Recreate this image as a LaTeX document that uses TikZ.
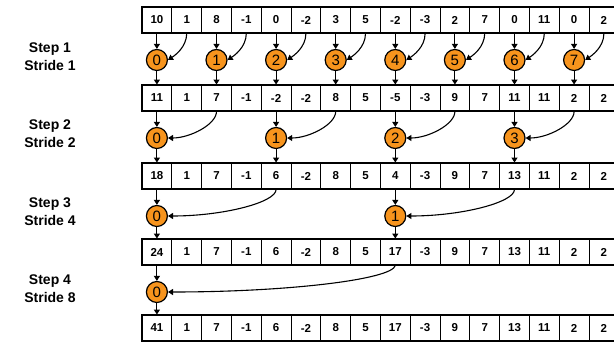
\documentclass[tikz,border=0pt]{standalone}
\usepackage{fontspec}
\setmainfont{Liberation Sans}
\usetikzlibrary{arrows.meta}
\definecolor{opfill}{HTML}{F7941D}
\begin{document}
\begin{tikzpicture}[x=1pt,y=1pt,
  cell/.style={draw, line width=0.9pt, minimum width=29.8pt, minimum height=26pt, inner sep=0pt, font=\fontsize{11.5}{13}\selectfont\bfseries},
  opnode/.style={circle, draw, line width=1.2pt, fill=opfill, minimum size=21pt, inner sep=0pt, font=\fontsize{15}{15}\selectfont},
  arr/.style={line width=1.1pt, -{Triangle[length=5pt,width=6pt]}},
  steplabel/.style={align=center, font=\fontsize{14}{18}\selectfont\bfseries}
]
\useasboundingbox (0,0) rectangle (614,-343);
\clip (0,0) rectangle (614,-343);
% arrays
\foreach \r/\yy/\vals in {
  0/20/{10,1,8,-1,0,-2,3,5,-2,-3,2,7,0,11,0,2},
  1/98/{11,1,7,-1,-2,-2,8,5,-5,-3,9,7,11,11,2,2},
  2/176/{18,1,7,-1,6,-2,8,5,4,-3,9,7,13,11,2,2},
  3/252/{24,1,7,-1,6,-2,8,5,17,-3,9,7,13,11,2,2},
  4/328/{41,1,7,-1,6,-2,8,5,17,-3,9,7,13,11,2,2}}{
  \foreach \v [count=\c from 0] in \vals {
    \node[cell] (r\r-\c) at ({142+(\c+0.5)*29.8},-\yy) {\v};
  }
  \draw[line width=2.8pt] (142,{-\yy+13}) rectangle ({142+16*29.8},{-\yy-13});
}
% step labels
\node[steplabel] (lab1) at (50,-57) {Step 1\\Stride 1};
\node[steplabel] (lab2) at (50,-134) {Step 2\\Stride 2};
\node[steplabel] (lab3) at (50,-212) {Step 3\\Stride 4};
\node[steplabel] (lab4) at (50,-289) {Step 4\\Stride 8};
% step 1
\foreach \k in {0,...,7}{
  \pgfmathtruncatemacro{\c}{2*\k}
  \pgfmathtruncatemacro{\s}{2*\k+1}
  \node[opnode] (s1-\k) at ({142+(\c+0.5)*29.8},-60) {\k};
  \draw[arr] (r0-\c.south) -- (s1-\k.north);
  \draw[arr] (s1-\k.south) -- (r1-\c.north);
  \draw[arr] (r0-\s.south) .. controls +(0,-14) and +(6,4) .. (s1-\k.east);
}
% step 2
\foreach \k in {0,...,3}{
  \pgfmathtruncatemacro{\c}{4*\k}
  \pgfmathtruncatemacro{\s}{4*\k+2}
  \node[opnode] (s2-\k) at ({142+(\c+0.5)*29.8},-138) {\k};
  \draw[arr] (r1-\c.south) -- (s2-\k.north);
  \draw[arr] (s2-\k.south) -- (r2-\c.north);
  \draw[arr] (r1-\s.south) .. controls +(0,-13) and +(22,0) .. (s2-\k.east);
}
% step 3
\foreach \k in {0,1}{
  \pgfmathtruncatemacro{\c}{8*\k}
  \pgfmathtruncatemacro{\s}{8*\k+4}
  \node[opnode] (s3-\k) at ({142+(\c+0.5)*29.8},-216) {\k};
  \draw[arr] (r2-\c.south) -- (s3-\k.north);
  \draw[arr] (s3-\k.south) -- (r3-\c.north);
  \draw[arr] (r2-\s.south) .. controls +(0,-13) and +(55,0) .. (s3-\k.east);
}
% step 4
\node[opnode] (s4-0) at ({142+0.5*29.8},-292) {0};
\draw[arr] (r3-0.south) -- (s4-0.north);
\draw[arr] (s4-0.south) -- (r4-0.north);
\draw[arr] (r3-8.south) .. controls +(-3,-14) and +(120,0) .. (s4-0.east);
\end{tikzpicture}
\end{document}
